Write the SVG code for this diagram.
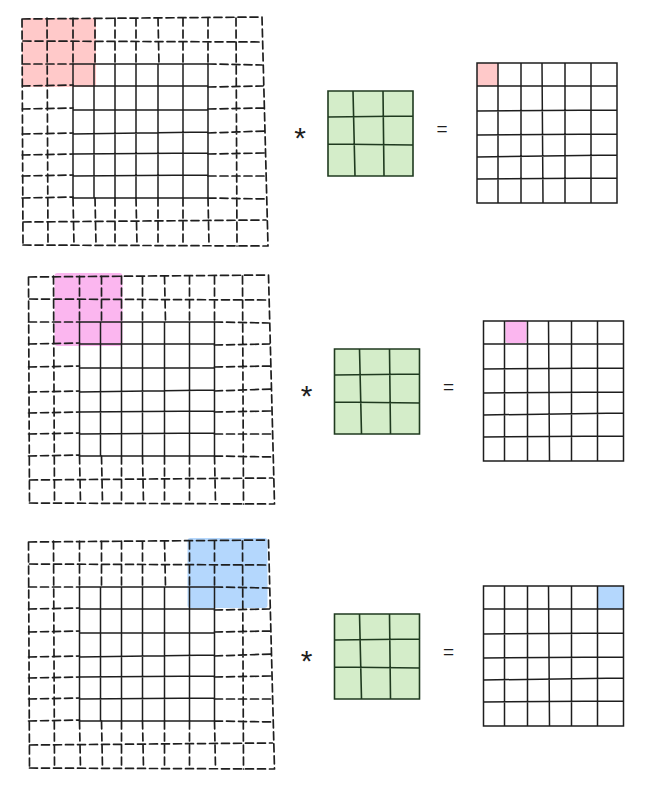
<svg xmlns="http://www.w3.org/2000/svg" width="655" height="785" viewBox="0 0 655 785">
<style>
.dash{fill:none;stroke:#1e1e1e;stroke-width:1.7;stroke-dasharray:8 4;stroke-linecap:round}
.solid{fill:none;stroke:#1e1e1e;stroke-width:1.5;stroke-linecap:round}
.kline{fill:none;stroke:#1f3a1f;stroke-width:1.6;stroke-linecap:round}
.kfill{fill:#d4edc9}
.op{font-family:"Liberation Sans",Arial,sans-serif;fill:#1e1e1e;text-anchor:middle}
</style>
<defs>
<g id="padded">
<path class="dash" d="M22 19 L262 17 M23 41 L262 42 M23 222 L266 220 M23 245 L268 246
M22 64 L73 64 M22 86 L73 85 M22 109 L73 108 M22 134 L73 133 M22 155 L73 154 M22 176 L73 175 M22 198 L73 197
M208 64 L262 65 M208 87 L263 86 M208 109 L264 108 M208 133 L265 131 M208 154 L265 153 M208 176 L266 176 M208 198 L266 199
M22 19 L23 245 M47 18 L48 245 M236 18 L237 246 M262 17 L268 246
M73 18 L73 64 M95 18 L95 64 M115 18 L115 64 M136 18 L136 64 M158 18 L159 64 M183 18 L183 64 M208 18 L208 64
M73 198 L74 245 M95 198 L96 245 M115 198 L115 245 M136 198 L137 245 M158 198 L158 245 M183 198 L183 245 M208 198 L209 245"/>
<path class="solid" d="M73 64 L73 198 M94 64 L94 198 M115 64 L115 198 M136 64 L136 198 M158 64 L158 198 M183 64 L183 198 M208 64 L208 198
M73 64 L208 64 M73 86 L208 86 M73 110 L208 110 M73 134 L208 132 M73 154 L208 153 M73 176 L208 175 M73 198 L208 198"/>
</g>
<g id="kernel">
<rect class="kfill" x="328" y="91" width="85" height="85"/>
<path class="kline" d="M328 91 L413 91 L413 176 L328 176 Z M353 91 L355 176 M383 91 L384 176 M328 117 L413 116 M328 144 L413 145"/>
</g>
<g id="outgrid">
<path class="solid" d="M477 63 L617 63 L617 203 L477 203 Z
M498 63 L498 203 M521 63 L521 203 M542 63 L543 203 M565 63 L565 203 M591 63 L591 203
M477 86 L617 86 M477 111 L617 110 M477 135 L617 134 M477 157 L617 155 M477 179 L617 178"/>
</g>
</defs>

<g id="row1">
<g id="input1">
<rect x="22" y="18" width="74" height="69" rx="3" fill="#ffc9c9"/>
<use href="#padded"/>
</g>
<text id="conv1" class="op" x="300" y="148" font-size="30">*</text>
<g id="kernel1"><use href="#kernel"/></g>
<text id="eq1" class="op" x="442" y="135" font-size="19">=</text>
<g id="output1">
<rect x="477" y="63" width="21" height="23" fill="#ffc9c9"/>
<use href="#outgrid"/>
</g>
</g>

<g id="row2" transform="translate(6.5 258)">
<g id="input2">
<rect x="48" y="15" width="68" height="73" rx="3" fill="#fbb6ef"/>
<use href="#padded"/>
</g>
<text id="conv2" class="op" x="300" y="148" font-size="30">*</text>
<g id="kernel2"><use href="#kernel"/></g>
<text id="eq2" class="op" x="442" y="135" font-size="19">=</text>
<g id="output2">
<rect x="499" y="62" width="21" height="23" rx="2" fill="#fbb6ef"/>
<use href="#outgrid"/>
</g>
</g>

<g id="row3" transform="translate(6.5 523)">
<g id="input3">
<rect x="181" y="15" width="80" height="70" rx="3" fill="#b4d7fd"/>
<use href="#padded"/>
</g>
<text id="conv3" class="op" x="300" y="148" font-size="30">*</text>
<g id="kernel3"><use href="#kernel"/></g>
<text id="eq3" class="op" x="442" y="135" font-size="19">=</text>
<g id="output3">
<rect x="591" y="63" width="26" height="23" fill="#b4d7fd"/>
<use href="#outgrid"/>
</g>
</g>
</svg>
